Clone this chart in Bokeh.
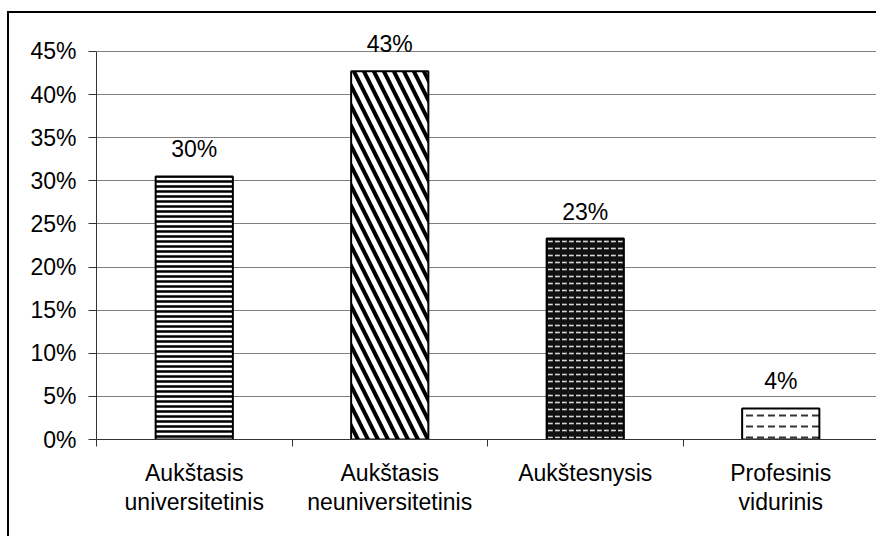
from bokeh.plotting import figure
from bokeh.models import FixedTicker, ColumnDataSource, LabelSet, Range1d
from bokeh.core.properties import value
from bokeh.embed import file_html
from bokeh.resources import INLINE

# ---- data ----
categories = ["Aukštasis\nuniversitetinis", "Aukštasis\nneuniversitetinis",
              "Aukštesnysis", "Profesinis\nvidurinis"]
shares = [30.5, 42.7, 23.3, 3.6]
share_labels = ["30%", "43%", "23%", "4%"]
y_ticks = [0, 5, 10, 15, 20, 25, 30, 35, 40, 45]
y_tick_labels = ["0%", "5%", "10%", "15%", "20%", "25%", "30%", "35%", "40%", "45%"]

# ---- styles ----
bar_fill = ["white", "white", "#111111", "white"]
bar_hatch = ["-", "\\", '"', '"']
bar_hatch_color = ["black", "black", "#d8d8d8", "#333333"]
bar_hatch_scale = [5, 20, 7, 11]
bar_hatch_weight = [2.5, 4, 1.6, 2]

FONT = "Liberation Sans"
FS = "23px"

n = len(categories)
xs = [i + 0.5 for i in range(n)]

src = ColumnDataSource(dict(
    x=xs, top=shares, label=share_labels,
    fill=bar_fill, hatch=bar_hatch, hcolor=bar_hatch_color,
    hscale=bar_hatch_scale, hweight=bar_hatch_weight,
))

p = figure(width=869, height=525, output_backend="svg", toolbar_location=None,
           x_range=Range1d(0, n), y_range=Range1d(0, 48),
           min_border_left=87, min_border_right=0, min_border_top=12,
           min_border_bottom=99)
p.styles = {"margin-left": "7px", "margin-top": "11px",
            "border-left": "2px solid black", "border-top": "2px solid black"}
p.outline_line_color = None
p.background_fill_color = "white"
p.border_fill_color = "white"

p.vbar(x="x", top="top", width=0.395, source=src,
       fill_color="fill", line_color="black", line_width=2,
       hatch_pattern="hatch", hatch_color="hcolor",
       hatch_scale="hscale", hatch_weight="hweight")

labels = LabelSet(x="x", y="top", text="label", source=src,
                  y_offset=19, text_align="center", text_baseline="alphabetic",
                  text_font=value(FONT), text_font_size=value(FS),
                  text_color="black")
p.add_layout(labels)

# y axis
p.yaxis.ticker = FixedTicker(ticks=y_ticks, minor_ticks=[])
p.yaxis.major_label_overrides = {t: l for t, l in zip(y_ticks, y_tick_labels)}
p.yaxis.bounds = (y_ticks[0], y_ticks[-1])
p.yaxis.major_label_text_font = FONT
p.yaxis.major_label_text_font_size = FS
p.yaxis.major_label_text_color = "black"
p.yaxis.major_tick_out = 8
p.yaxis.major_tick_in = 0
p.yaxis.major_label_standoff = 12
p.yaxis.axis_line_color = "#333333"
p.yaxis.major_tick_line_color = "#333333"

# x axis
p.xaxis.ticker = FixedTicker(ticks=xs, minor_ticks=list(range(n + 1)))
p.xaxis.major_label_overrides = {x: c for x, c in zip(xs, categories)}
p.xaxis.major_label_text_font = FONT
p.xaxis.major_label_text_font_size = FS
p.xaxis.major_label_text_color = "black"
p.xaxis.major_label_text_line_height = 1.15
p.xaxis.major_tick_line_color = None
p.xaxis.major_tick_out = 0
p.xaxis.major_tick_in = 0
p.xaxis.minor_tick_out = 7
p.xaxis.minor_tick_in = 0
p.xaxis.minor_tick_line_color = "#333333"
p.xaxis.major_label_standoff = 13
p.xaxis.axis_line_color = "#333333"

p.xgrid.grid_line_color = None
p.ygrid.grid_line_color = "#808080"
p.ygrid.grid_line_width = 1

open("out.html", "w").write(file_html(p, INLINE))
